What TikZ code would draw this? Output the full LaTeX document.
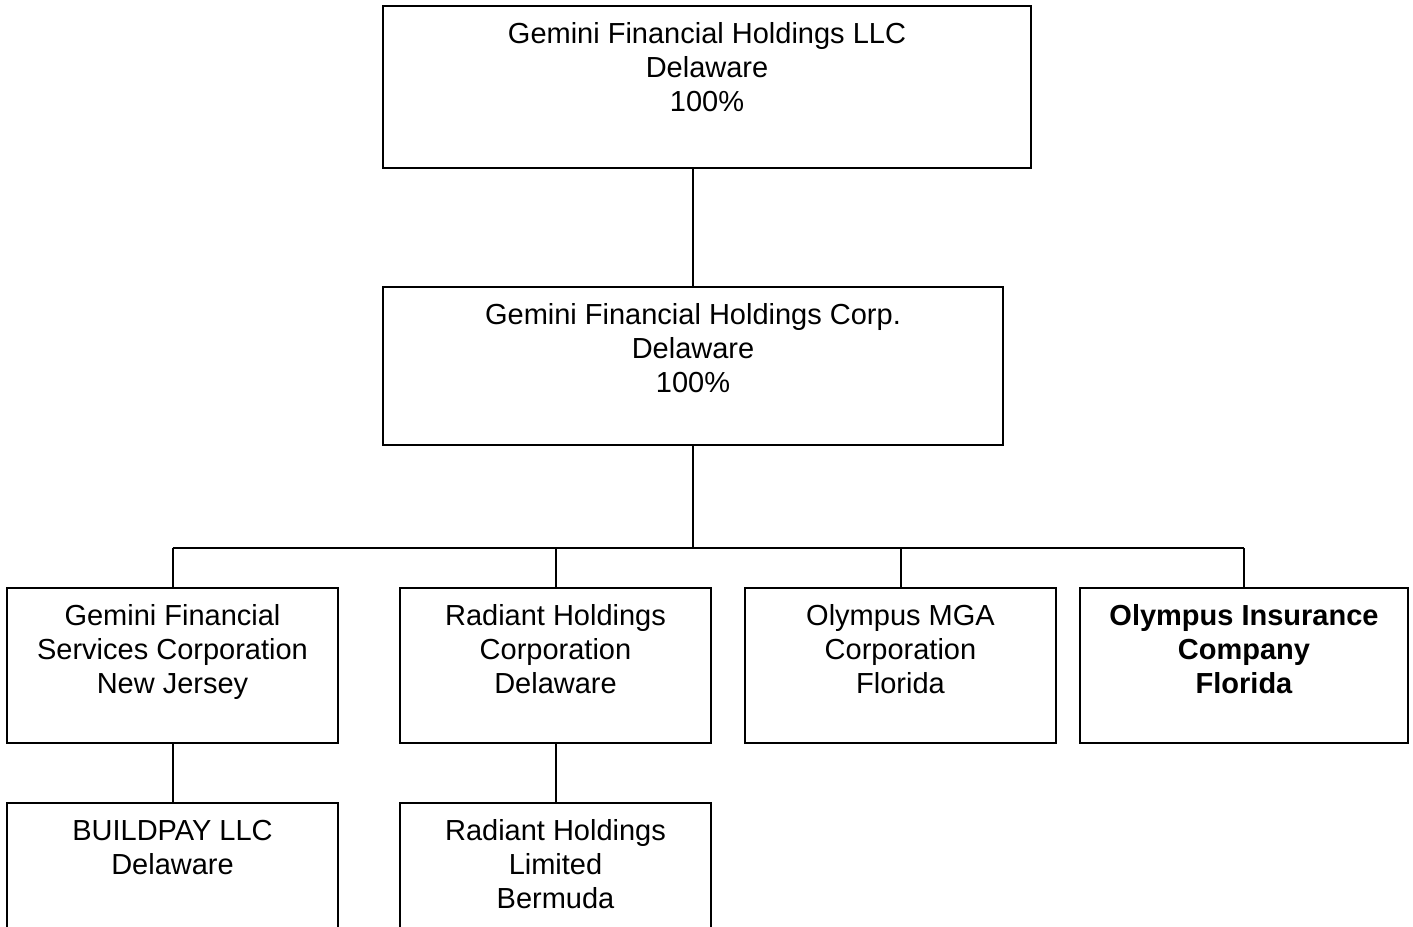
\documentclass[tikz,border=0pt]{standalone}
\usepackage{fontspec}
\setmainfont{Liberation Sans}
\begin{document}
\begin{tikzpicture}[x=1pt,y=-1pt,
  box/.style={draw=black,line width=2pt,rectangle,inner sep=0pt,outer sep=0pt,anchor=north west},
  lbl/.style={anchor=north,align=center,inner sep=0pt,font=\fontsize{29}{34}\selectfont},
  conn/.style={draw=black,line width=2pt}]
\useasboundingbox (0,0) rectangle (1413,926);
\clip (0,0) rectangle (1413,926);
% boxes
\node[box,minimum width=648pt,minimum height=162pt] (top) at (383,6) {};
\node[box,minimum width=620pt,minimum height=158pt] (corp) at (383,287) {};
\node[box,minimum width=331pt,minimum height=155pt] (gfsc) at (7,588) {};
\node[box,minimum width=311pt,minimum height=155pt] (rhc) at (400,588) {};
\node[box,minimum width=311pt,minimum height=155pt] (mga) at (745,588) {};
\node[box,minimum width=328pt,minimum height=155pt] (oic) at (1080,588) {};
\node[box,minimum width=331pt,minimum height=165pt] (bp) at (7,803) {};
\node[box,minimum width=311pt,minimum height=165pt] (rhl) at (400,803) {};
% labels
\node[lbl] (ltop) at ([yshift=-16.5pt]top.north) {Gemini Financial Holdings LLC\\Delaware\\100\%};
\node[lbl] (lcorp) at ([yshift=-16.5pt]corp.north) {Gemini Financial Holdings Corp.\\Delaware\\100\%};
\node[lbl] (lgfsc) at ([yshift=-16.5pt]gfsc.north) {Gemini Financial\\Services Corporation\\New Jersey};
\node[lbl] (lrhc) at ([yshift=-16.5pt]rhc.north) {Radiant Holdings\\Corporation\\Delaware};
\node[lbl] (lmga) at ([yshift=-16.5pt]mga.north) {Olympus MGA\\Corporation\\Florida};
\node[lbl,font=\fontsize{29}{34}\selectfont\bfseries] (loic) at ([yshift=-16.5pt]oic.north) {Olympus Insurance\\Company\\Florida};
\node[lbl] (lbp) at ([yshift=-17.5pt]bp.north) {BUILDPAY LLC\\Delaware};
\node[lbl] (lrhl) at ([yshift=-16.5pt]rhl.north) {Radiant Holdings\\Limited\\Bermuda};
% connectors
\coordinate (bus) at (0,548);
\draw[conn] (corp.north) -- (corp.north |- top.south);
\draw[conn] (corp.south) -- (corp.south |- bus);
\draw[conn] (gfsc.north |- bus) -- (oic.north |- bus);
\draw[conn] (gfsc.north) -- (gfsc.north |- bus);
\draw[conn] (rhc.north) -- (rhc.north |- bus);
\draw[conn] (mga.north) -- (mga.north |- bus);
\draw[conn] (oic.north) -- (oic.north |- bus);
\draw[conn] (gfsc.south) -- (bp.north);
\draw[conn] (rhc.south) -- (rhl.north);
\end{tikzpicture}
\end{document}
